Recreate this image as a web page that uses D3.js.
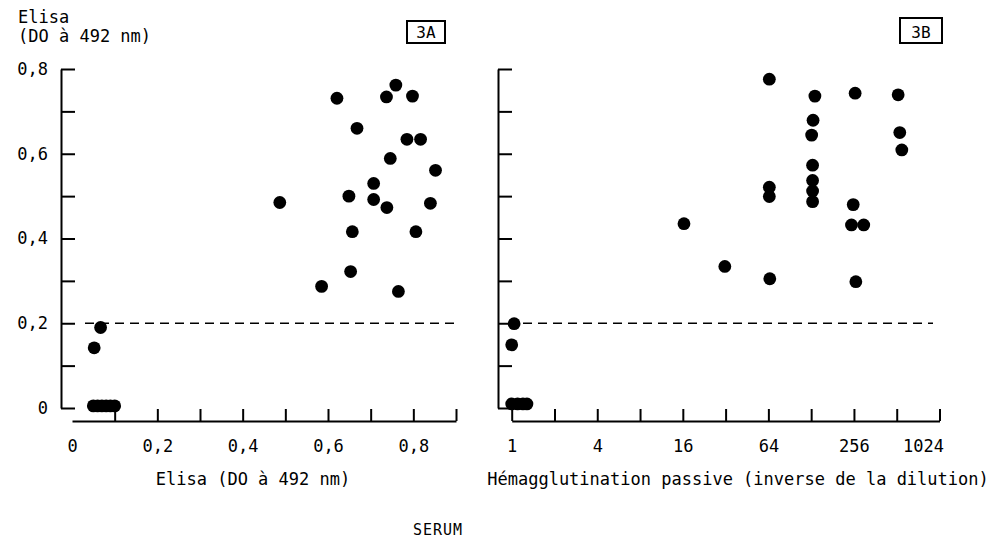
<!DOCTYPE html>
<html>
<head>
<meta charset="utf-8">
<script src="https://cdn.jsdelivr.net/npm/d3@7"></script>
<style>
    body { margin: 0; background: #fff; }
    text { font-family: 'DejaVu Sans Mono', monospace; fill: #000; }
</style>
</head>
<body>
<div id="chart"></div>
<script>
// Shared y values (Elisa OD)
const yTickValues = [0, 0.1, 0.2, 0.3, 0.4, 0.5, 0.6, 0.7, 0.8];
const yTickLabels = ['0', '', '0,2', '', '0,4', '', '0,6', '', '0,8'];
const threshold = 0.2;

// Panel 3A: Elisa (serum) vs Elisa
const aTickValues = [0, 0.1, 0.2, 0.3, 0.4, 0.5, 0.6, 0.7, 0.8, 0.9];
const aTickLabels = ['0', '', '0,2', '', '0,4', '', '0,6', '', '0,8', ''];
const aX = [0.487, 0.621, 0.759, 0.737, 0.798, 0.668, 0.785, 0.817, 0.746, 0.852, 0.707,
    0.649, 0.707, 0.738, 0.840, 0.657, 0.806, 0.653, 0.585, 0.765, 0.067, 0.052,
    0.05, 0.06, 0.07, 0.08, 0.09, 0.10];
const aY = [0.485, 0.731, 0.762, 0.734, 0.736, 0.660, 0.634, 0.634, 0.589, 0.561, 0.530,
    0.500, 0.492, 0.473, 0.483, 0.416, 0.416, 0.322, 0.287, 0.275, 0.190, 0.142,
    0.005, 0.005, 0.005, 0.005, 0.005, 0.005];

// Panel 3B: passive haemagglutination titre vs Elisa
const bTickValues = [1, 2, 4, 8, 16, 32, 64, 128, 256, 512, 1024];
const bTickLabels = ['1', '', '4', '', '16', '', '64', '', '256', '', '1024'];
const bX = [65, 136, 261, 524, 132, 129, 538, 556, 131, 131, 131, 131, 65, 65,
    253, 246, 300, 16.3, 31.6, 65.5, 264, 1.04, 1.0,
    1.0, 1.1, 1.2, 1.28];
const bY = [0.776, 0.736, 0.743, 0.739, 0.679, 0.644, 0.650, 0.609, 0.573, 0.537, 0.512, 0.487, 0.521, 0.499,
    0.480, 0.432, 0.432, 0.435, 0.334, 0.305, 0.298, 0.199, 0.149,
    0.0095, 0.0095, 0.0095, 0.0095];

const width = 998, height = 540;
const fontSize = 17;

const svg = d3.select('#chart')
    .append('svg')
    .attr('width', width)
    .attr('height', height);

// Common y scale
const y = d3.scaleLinear().domain([0, 0.8]).range([408, 69]);

// Draw one panel: y axis, x axis, threshold line, points, label box
function drawPanel(opts) {
    const g = svg.append('g');

    // Y axis with inward ticks
    const yAxis = g.append('g')
        .attr('transform', 'translate(' + opts.yAxisX + ',0)')
        .call(d3.axisLeft(y)
            .tickValues(yTickValues)
            .tickSize(-14)
            .tickSizeOuter(0)
            .tickPadding(13)
            .tickFormat((d, i) => opts.showYLabels ? yTickLabels[i] : ''));

    // X axis, slightly detached below the plot
    const xAxis = g.append('g')
        .attr('transform', 'translate(0,421)')
        .call(d3.axisBottom(opts.x)
            .tickValues(opts.xTicks)
            .tickSize(-12)
            .tickSizeOuter(0)
            .tickPadding(19)
            .tickFormat((d, i) => opts.xLabels[i]));

    [yAxis, xAxis].forEach(ax => {
        ax.selectAll('path, line').style('stroke', '#000').style('stroke-width', '2px');
        ax.selectAll('text').style('font-size', fontSize + 'px')
            .style('font-family', "'DejaVu Sans Mono', monospace");
    });

    // No tick mark at the origin of the linear axis
    if(opts.hideFirstTick) {
        xAxis.select('.tick:first-of-type line').remove();
    }

    // Last label on the log axis sits left of its tick
    if(opts.lastLabelEnd) {
        xAxis.selectAll('.tick:last-of-type text').attr('text-anchor', 'end').attr('dx', 4);
    }

    // Dashed threshold line
    g.append('line')
        .attr('x1', opts.dashFrom)
        .attr('x2', opts.dashTo)
        .attr('y1', y(threshold))
        .attr('y2', y(threshold))
        .style('stroke', '#000')
        .style('stroke-width', '1.6px')
        .style('stroke-dasharray', '9,6');

    // Points
    g.selectAll('circle')
        .data(opts.xs.map((v, i) => ({ x: v, y: opts.ys[i] })))
        .enter()
        .append('circle')
            .attr('cx', d => opts.x(d.x))
            .attr('cy', d => y(d.y))
            .attr('r', 6.4)
            .style('fill', '#000');

    // Panel label box
    g.append('rect')
        .attr('x', opts.box[0])
        .attr('y', opts.box[1])
        .attr('width', opts.box[2])
        .attr('height', opts.box[3])
        .style('fill', 'none')
        .style('stroke', '#000')
        .style('stroke-width', '2px');
    g.append('text')
        .attr('x', opts.box[0] + opts.box[2] / 2)
        .attr('y', opts.box[1] + opts.box[3] - 5)
        .attr('text-anchor', 'middle')
        .style('font-size', '16px')
        .text(opts.name);

    // Axis title
    g.append('text')
        .attr('x', opts.titleX)
        .attr('y', 485)
        .attr('text-anchor', 'middle')
        .style('font-size', fontSize + 'px')
        .text(opts.title);
}

// Panel 3A
drawPanel({
    name: '3A',
    x: d3.scaleLinear().domain([0, 0.9]).range([72, 456]),
    xTicks: aTickValues,
    xLabels: aTickLabels,
    xs: aX,
    ys: aY,
    yAxisX: 61,
    showYLabels: true,
    hideFirstTick: true,
    dashFrom: 85,
    dashTo: 457,
    box: [407, 21, 38, 22],
    title: 'Elisa (DO à 492 nm)',
    titleX: 253
});

// Panel 3B
drawPanel({
    name: '3B',
    x: d3.scaleLog().base(2).domain([1, 1024]).range([511.7, 939.5]),
    xTicks: bTickValues,
    xLabels: bTickLabels,
    xs: bX,
    ys: bY,
    yAxisX: 498,
    showYLabels: false,
    lastLabelEnd: true,
    dashFrom: 523,
    dashTo: 933,
    box: [900, 18, 42, 25],
    title: 'Hémagglutination passive (inverse de la dilution)',
    titleX: 738
});

// Y axis title, top left
svg.append('text')
    .attr('x', 18)
    .attr('y', 23)
    .style('font-size', fontSize + 'px')
    .text('Elisa');
svg.append('text')
    .attr('x', 18)
    .attr('y', 42)
    .style('font-size', fontSize + 'px')
    .text('(DO à 492 nm)');

// Common caption
svg.append('text')
    .attr('x', 438)
    .attr('y', 535)
    .attr('text-anchor', 'middle')
    .style('font-size', '15px')
    .style('letter-spacing', '1px')
    .text('SERUM');
</script>
</body>
</html>
